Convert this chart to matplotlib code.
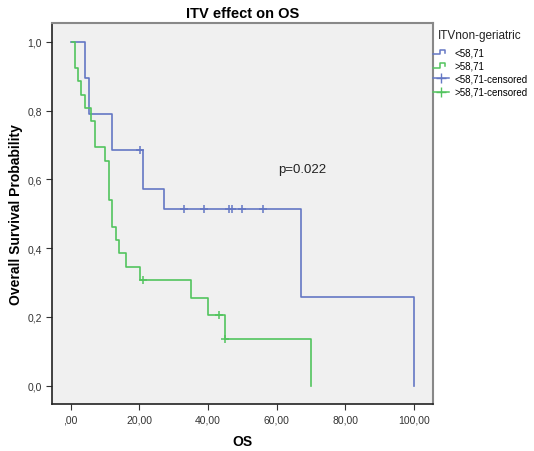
import matplotlib.pyplot as plt
from matplotlib.lines import Line2D
from matplotlib.legend_handler import HandlerBase

plt.rcParams['font.family'] = ['Liberation Sans', 'DejaVu Sans']

# Kaplan-Meier step values
low_t = [0, 4.2, 5.3, 12.0, 21.1, 27.2, 67.0, 100.0]
low_s = [1.0, 0.895, 0.79, 0.685, 0.572, 0.514, 0.259, 0.0]
low_cens_t = [20.2, 33.0, 38.8, 46.1, 47.0, 49.9, 55.9]
low_cens_s = [0.685, 0.514, 0.514, 0.514, 0.514, 0.514, 0.514]

high_t = [0.3, 1.2, 2.1, 3.1, 4.2, 6.0, 7.1, 10.0, 11.2, 12.1, 13.1, 14.1,
          16.2, 20.2, 35.2, 40.1, 45.1, 70.1]
high_s = [1.0, 0.924, 0.885, 0.846, 0.808, 0.771, 0.694, 0.654, 0.539, 0.461,
          0.423, 0.385, 0.346, 0.308, 0.256, 0.205, 0.136, 0.0]
high_cens_t = [21.2, 43.2, 45.1]
high_cens_s = [0.308, 0.205, 0.136]

blue = '#6477c4'
green = '#52c45e'


class StepHandler(HandlerBase):
    # small step glyph like the SPSS legend
    def create_artists(self, legend, orig, xd, yd, w, h, fontsize, trans):
        xs = [xd, xd + w * 0.45, xd + w * 0.45, xd + w * 0.75, xd + w * 0.75]
        ys = [yd + h * 0.15, yd + h * 0.15, yd + h * 0.85, yd + h * 0.85, yd + h * 0.4]
        ln = Line2D(xs, ys, color=orig.get_color(), lw=1.1, transform=trans)
        return [ln]


fig = plt.figure(figsize=(5.34, 4.52), dpi=100)
ax = fig.add_axes([0.098, 0.104, 0.712, 0.843])
ax.set_facecolor('#f0f0f0')

ax.step(low_t, low_s, where='post', color=blue, lw=1.2)
ax.step(high_t, high_s, where='post', color=green, lw=1.2)
ax.plot(low_cens_t, low_cens_s, '+', color=blue, ms=6, mew=1.1)
ax.plot(high_cens_t, high_cens_s, '+', color=green, ms=6, mew=1.1)

ax.set_xlim(-5.3, 105.4)
ax.set_ylim(-0.053, 1.055)
ax.set_xticks([0, 20, 40, 60, 80, 100])
ax.set_xticklabels([',00', '20,00', '40,00', '60,00', '80,00', '100,00'])
ax.set_yticks([0, 0.2, 0.4, 0.6, 0.8, 1.0])
ax.set_yticklabels(['0,0', '0,2', '0,4', '0,6', '0,8', '1,0'])
ax.tick_params(labelsize=7.5, length=4, color='#333333', labelcolor='#333333')

for side in ['left', 'bottom']:
    ax.spines[side].set_color('#222222')
    ax.spines[side].set_linewidth(1.2)
for side in ['top', 'right']:
    ax.spines[side].set_color('#888888')
    ax.spines[side].set_linewidth(1.5)

ax.set_title('ITV effect on OS', fontsize=10.5, fontweight='bold', pad=4)
ax.set_xlabel('OS', fontsize=10, fontweight='bold', labelpad=7)
ax.set_ylabel('Overall Survival Probability', fontsize=10, fontweight='bold', labelpad=3)

ax.text(60.4, 0.63, 'p=0.022', fontsize=9.5, color='#222222', va='center')

step_blue = Line2D([], [], color=blue)
step_green = Line2D([], [], color=green)
handles = [
    step_blue,
    step_green,
    Line2D([], [], color=blue, lw=1.1, marker='+', ms=7),
    Line2D([], [], color=green, lw=1.1, marker='+', ms=7),
]
labels = ['<58,71', '>58,71', '<58,71-censored', '>58,71-censored']
fig.text(0.82, 0.92, 'ITVnon-geriatric', fontsize=8.5, color='#222222', va='center')
fig.legend(handles, labels, loc='upper left',
           bbox_to_anchor=(0.81, 0.893), frameon=False, fontsize=7,
           handlelength=1.7, handletextpad=0.6,
           labelspacing=0.33, borderaxespad=0, borderpad=0,
           handler_map={step_blue: StepHandler(), step_green: StepHandler()})

plt.savefig('out.png', dpi=100)
